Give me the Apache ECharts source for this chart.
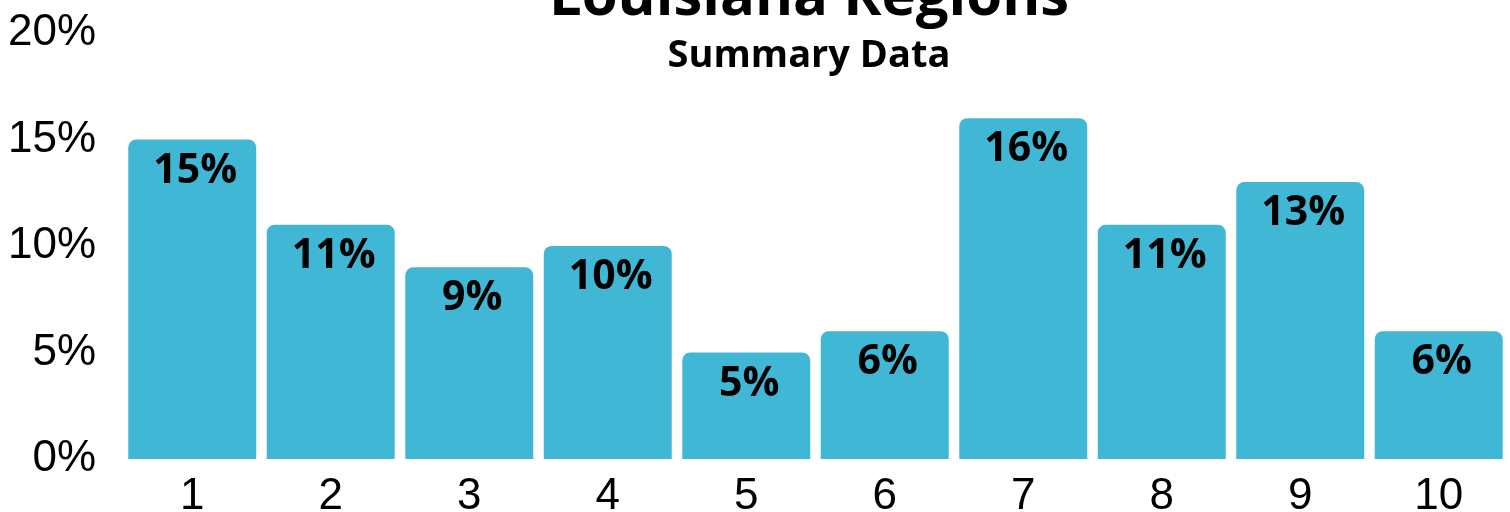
<!DOCTYPE html>
<html>
<head>
<meta charset="utf-8">
<script src="https://cdn.jsdelivr.net/npm/echarts@6/dist/echarts.min.js"></script>
<style>
html,body{margin:0;padding:0;background:#fff;}
#chart{width:1510px;height:512px;}
</style>
</head>
<body>
<div id="chart"></div>
<script>
const categories = ['1','2','3','4','5','6','7','8','9','10'];
const values = [15, 11, 9, 10, 5, 6, 16, 11, 13, 6];
const yTicks = [0, 5, 10, 15, 20];
const titleText = 'Louisiana Regions';
const subtitleText = 'Summary Data';

const chart = echarts.init(document.getElementById('chart'), null, {renderer: 'canvas'});
chart.setOption({
  animation: false,
  backgroundColor: '#ffffff',
  graphic: [
    {type: 'text', x: 809, y: 27, z: 10,
     style: {text: titleText, font: 'bold 58px "Open Sans"', fill: '#000',
             align: 'center', verticalAlign: 'bottom'}},
    {type: 'text', x: 809, y: 56, z: 10,
     style: {text: subtitleText, font: 'bold 38px "Open Sans"', fill: '#000',
             align: 'center', verticalAlign: 'middle'}}
  ],
  grid: {left: 123, right: 2, top: 33, bottom: 53, containLabel: false, outerBoundsMode: 'none'},
  xAxis: {
    type: 'category',
    data: categories,
    axisLine: {show: false},
    axisTick: {show: false},
    axisLabel: {color: '#000', fontSize: 44, fontFamily: 'Liberation Sans', margin: 16}
  },
  yAxis: {
    type: 'value',
    min: yTicks[0],
    max: yTicks[yTicks.length - 1],
    interval: yTicks[1] - yTicks[0],
    splitLine: {show: false},
    axisLine: {show: false},
    axisTick: {show: false},
    axisLabel: {color: '#000', fontSize: 44, fontFamily: 'Liberation Sans', margin: 27,
      formatter: v => v + '%'}
  },
  series: [{
    type: 'bar',
    data: values,
    barCategoryGap: '7.6%',
    itemStyle: {color: '#41b7d6', borderRadius: [8, 8, 0, 0]},
    label: {
      show: true,
      position: 'insideTop',
      distance: 11,
      offset: [3, 0],
      color: '#000',
      fontSize: 41,
      fontWeight: 'bold',
      fontFamily: 'Open Sans',
      formatter: p => p.value + '%'
    }
  }]
});
</script>
</body>
</html>
